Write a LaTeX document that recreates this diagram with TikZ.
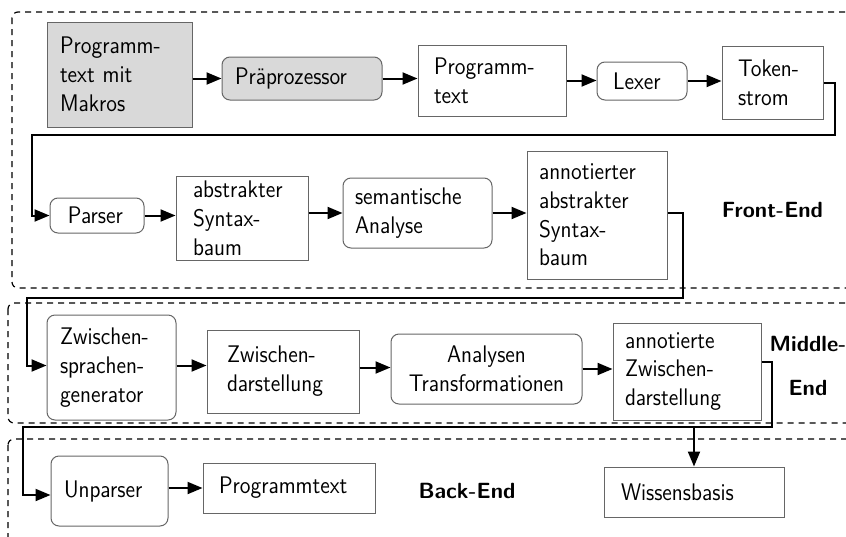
\documentclass[tikz,border=0pt]{standalone}
\usepackage{fontspec}
\newfontfamily\nodefnt{lmsans12-regular.otf}[FakeStretch=0.91]
\newfontfamily\lblfnt{lmsans10-bold.otf}
\usetikzlibrary{arrows.meta}
\definecolor{boxgray}{HTML}{D9D9D9}
\tikzset{
  base/.style={draw=black!60, line width=0.5pt, anchor=center, inner ysep=0pt,
    font={\fontsize{12}{14.4}\selectfont\nodefnt}, align=left},
  sqbox/.style={base},
  rdbox/.style={base, rounded corners=4pt},
  grey/.style={fill=boxgray},
  arr/.style={line width=1pt, -{Triangle[length=7.5pt,width=6pt]}},
  region/.style={draw=black, line width=0.6pt, dash pattern=on 3pt off 2.5pt, rounded corners=3pt},
  lbl/.style={font={\fontsize{11}{22}\selectfont\lblfnt}, align=center, inner sep=0pt}
}
\begin{document}
\begin{tikzpicture}[x=0.5pt,y=-0.5pt]
\useasboundingbox (0,0) rectangle (846,536);
\begin{scope}
\clip (0,0) rectangle (846,536);
\draw[region] (12,12) rectangle (880,288);
\draw[region] (8,303) rectangle (880,423);
\draw[region] (8,439) rectangle (880,560);
\end{scope}

% Front-End
\node[sqbox, grey, minimum width=72.5pt, minimum height=52.5pt, text width=59.5pt, inner xsep=6.5pt] (n1) at (119.5,74.5) {Programm-\\text mit\\Makros};
\node[rdbox, grey, minimum width=80pt, minimum height=21.5pt, text width=67pt, inner xsep=6.5pt] (n2) at (302,78.5) {Präprozessor};
\node[sqbox, minimum width=74pt, minimum height=35.5pt, text width=58pt, inner xsep=8pt] (n3) at (492,80.5) {Programm-\\text};
\node[rdbox, minimum width=45pt, minimum height=19pt, text width=29pt, inner xsep=8pt] (n4) at (642,81) {Lexer};
\node[sqbox, minimum width=50.5pt, minimum height=36.5pt, text width=34.5pt, inner xsep=8pt] (n5) at (772.5,82.5) {Token-\\strom};
\node[rdbox, minimum width=47pt, minimum height=17.5pt, text width=29pt, inner xsep=9pt] (n6) at (97,215.5) {Parser};
\node[sqbox, minimum width=66pt, minimum height=42pt, text width=49pt, inner xsep=8.5pt] (n7) at (242,218) {abstrakter\\Syntax-\\baum};
\node[rdbox, minimum width=74.5pt, minimum height=35pt, text width=62.5pt, inner xsep=6pt] (n8) at (417.5,213) {semantische\\Analyse};
\node[sqbox, minimum width=70pt, minimum height=64pt, text width=58pt, inner xsep=6pt] (n9) at (597,215) {annotierter\\abstrakter\\Syntax-\\baum};
\node[lbl] (fe) at (772.5,210) {Front-End};

% Middle-End
\node[rdbox, minimum width=64.5pt, minimum height=52.5pt, text width=51.5pt, inner xsep=6.5pt] (n10) at (111.5,367.5) {Zwischen-\\sprachen-\\generator};
\node[sqbox, minimum width=76pt, minimum height=41.5pt, text width=56pt, inner xsep=10pt] (n11) at (283,371.5) {Zwischen-\\darstellung};
\node[rdbox, minimum width=95.5pt, minimum height=35pt, text width=85pt, inner xsep=5.25pt, align=center] (n12) at (486.5,369) {Analysen\\Transformationen};
\node[sqbox, minimum width=74pt, minimum height=48.5pt, text width=62pt, inner xsep=6pt] (n13) at (687,371.5) {annotierte\\Zwischen-\\darstellung};
\node[lbl] (me) at (808,366) {Middle-\\End};

% Back-End
\node[rdbox, minimum width=58.5pt, minimum height=35pt, text width=45.5pt, inner xsep=6.5pt] (n14) at (109.5,491) {Unparser};
\node[sqbox, minimum width=86pt, minimum height=25pt, text width=70pt, inner xsep=8pt] (n15) at (289,488) {Programmtext};
\node[sqbox, minimum width=90pt, minimum height=25pt, text width=73pt, inner xsep=8.5pt] (n16) at (694,492) {Wissensbasis};
\node[lbl] (be) at (467,491) {Back-End};

% routing points
\coordinate (a1) at (835,135);
\coordinate (a2) at (32,135);
\coordinate (b1) at (683,298);
\coordinate (b2) at (27,298);
\coordinate (c1) at (772,427);
\coordinate (c2) at (23,427);

% connectors
\draw[arr] (n2.west -| n1.east) -- (n2.west);
\draw[arr] (n2.east) -- (n2.east -| n3.west);
\draw[arr] (n3.east) -- (n3.east -| n4.west);
\draw[arr] (n4.east) -- (n4.east -| n5.west);
\draw[arr] (n5.east) -| (a1) -- (a2) |- (n6.west);
\draw[arr] (n6.east) -- (n6.east -| n7.west);
\draw[arr] (n8.west -| n7.east) -- (n8.west);
\draw[arr] (n8.east) -- (n8.east -| n9.west);
\draw[arr] ([yshift=1pt]n9.east) -| (b1) -- (b2) |- ([yshift=1pt]n10.west);
\draw[arr] ([yshift=1pt]n10.east) -- ([yshift=1pt]n10.east -| n11.west);
\draw[arr] ([yshift=2pt]n11.east) -- ([yshift=2pt]n11.east -| n12.west);
\draw[arr] (n12.east) -- (n12.east -| n13.west);
\draw[arr] ([yshift=4.75pt]n13.east) -| (c1) -- (c2) |- ([yshift=-2pt]n14.west);
\draw[arr] (n16.north |- c1) -- (n16.north);
\draw[arr] (n15.west -| n14.east) -- (n15.west);
\end{tikzpicture}
\end{document}
